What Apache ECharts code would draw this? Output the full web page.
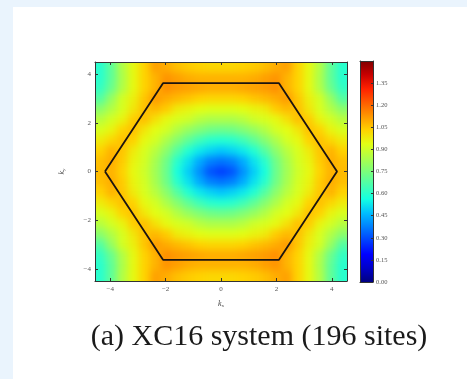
<!DOCTYPE html>
<html>
<head>
<meta charset="utf-8">
<script src="https://cdn.jsdelivr.net/npm/echarts@6/dist/echarts.min.js"></script>
<style>
  html, body { margin: 0; padding: 0; width: 467px; height: 379px; overflow: hidden; background: #eaf4fd; }
  #panel { position: absolute; left: 13px; top: 7px; width: 454px; height: 372px; background: #ffffff; }
  #fieldClip { position: absolute; left: 95px; top: 62px; width: 252px; height: 219px; overflow: hidden; }
  #field { position: absolute; left: -12px; top: -12px; width: 276px; height: 243px; filter: blur(3.5px); }
  #chart { position: absolute; left: 0; top: 0; width: 467px; height: 379px; }
</style>
</head>
<body>
<div id="panel"></div>
<div id="fieldClip"><div id="field"></div></div>
<div id="chart"></div>
<script>
// Sample grid (cell centres) in reciprocal space
const kxCenters = [-4.352, -3.957, -3.561, -3.165, -2.770, -2.374, -1.978, -1.583, -1.187, -0.791, -0.396, 0,
                   0.396, 0.791, 1.187, 1.583, 1.978, 2.374, 2.770, 3.165, 3.561, 3.957, 4.352];
const kyCenters = [4.286, 3.857, 3.429, 3.000, 2.571, 2.143, 1.714, 1.286, 0.857, 0.429, 0,
                   -0.429, -0.857, -1.286, -1.714, -2.143, -2.571, -3.000, -3.429, -3.857, -4.286];

// Field values, one row per ky (top to bottom), one column per kx (left to right)
const fieldRows = [
  [0.60,0.70,0.85,0.95,1.03,1.11,1.09,1.06,1.04,1.03,1.02,1.02,1.02,1.03,1.04,1.06,1.09,1.11,1.03,0.95,0.85,0.70,0.60],
  [0.60,0.70,0.84,0.95,1.03,1.08,1.13,1.11,1.09,1.08,1.08,1.08,1.08,1.08,1.09,1.11,1.13,1.08,1.03,0.95,0.84,0.70,0.60],
  [0.62,0.72,0.85,0.95,1.03,1.08,1.14,1.12,1.11,1.10,1.09,1.09,1.09,1.10,1.11,1.12,1.14,1.08,1.03,0.95,0.85,0.72,0.62],
  [0.68,0.80,0.91,0.97,1.05,1.12,1.09,1.07,1.05,1.03,1.02,1.02,1.02,1.03,1.05,1.07,1.09,1.12,1.05,0.97,0.91,0.80,0.68],
  [0.78,0.85,0.92,0.99,1.06,1.07,1.04,0.98,0.96,0.94,0.93,0.93,0.93,0.94,0.96,0.98,1.04,1.07,1.06,0.99,0.92,0.85,0.78],
  [0.86,0.91,0.96,1.04,1.06,1.00,0.95,0.92,0.90,0.86,0.84,0.84,0.84,0.86,0.90,0.92,0.95,1.00,1.06,1.04,0.96,0.91,0.86],
  [0.92,0.96,1.03,1.06,0.99,0.94,0.91,0.85,0.80,0.76,0.73,0.72,0.73,0.76,0.80,0.85,0.91,0.94,0.99,1.06,1.03,0.96,0.92],
  [0.98,1.02,1.06,1.03,0.95,0.91,0.84,0.77,0.70,0.64,0.60,0.59,0.60,0.64,0.70,0.77,0.84,0.91,0.95,1.03,1.06,1.02,0.98],
  [1.03,1.08,1.05,0.98,0.92,0.86,0.78,0.68,0.59,0.53,0.50,0.48,0.50,0.53,0.59,0.68,0.78,0.86,0.92,0.98,1.05,1.08,1.03],
  [1.06,1.09,1.04,0.96,0.91,0.83,0.73,0.60,0.52,0.44,0.38,0.36,0.38,0.44,0.52,0.60,0.73,0.83,0.91,0.96,1.04,1.09,1.06],
  [1.07,1.08,1.03,0.95,0.90,0.82,0.72,0.57,0.49,0.40,0.31,0.28,0.31,0.40,0.49,0.57,0.72,0.82,0.90,0.95,1.03,1.08,1.07],
  [1.06,1.09,1.04,0.96,0.91,0.83,0.73,0.60,0.52,0.44,0.38,0.36,0.38,0.44,0.52,0.60,0.73,0.83,0.91,0.96,1.04,1.09,1.06],
  [1.03,1.08,1.05,0.98,0.92,0.86,0.78,0.68,0.59,0.53,0.50,0.48,0.50,0.53,0.59,0.68,0.78,0.86,0.92,0.98,1.05,1.08,1.03],
  [0.98,1.02,1.06,1.03,0.95,0.91,0.84,0.77,0.70,0.64,0.60,0.59,0.60,0.64,0.70,0.77,0.84,0.91,0.95,1.03,1.06,1.02,0.98],
  [0.92,0.96,1.03,1.06,0.99,0.94,0.91,0.85,0.80,0.76,0.73,0.72,0.73,0.76,0.80,0.85,0.91,0.94,0.99,1.06,1.03,0.96,0.92],
  [0.86,0.91,0.96,1.04,1.06,1.00,0.95,0.92,0.90,0.86,0.84,0.84,0.84,0.86,0.90,0.92,0.95,1.00,1.06,1.04,0.96,0.91,0.86],
  [0.78,0.85,0.92,0.99,1.06,1.07,1.04,0.98,0.96,0.94,0.93,0.93,0.93,0.94,0.96,0.98,1.04,1.07,1.06,0.99,0.92,0.85,0.78],
  [0.68,0.80,0.91,0.97,1.05,1.12,1.09,1.07,1.05,1.03,1.02,1.02,1.02,1.03,1.05,1.07,1.09,1.12,1.05,0.97,0.91,0.80,0.68],
  [0.62,0.72,0.85,0.95,1.03,1.08,1.14,1.12,1.11,1.10,1.09,1.09,1.09,1.10,1.11,1.12,1.14,1.08,1.03,0.95,0.85,0.72,0.62],
  [0.60,0.70,0.84,0.95,1.03,1.08,1.13,1.11,1.09,1.08,1.08,1.08,1.08,1.08,1.09,1.11,1.13,1.08,1.03,0.95,0.84,0.70,0.60],
  [0.60,0.70,0.85,0.95,1.03,1.11,1.09,1.06,1.04,1.03,1.02,1.02,1.02,1.03,1.04,1.06,1.09,1.11,1.03,0.95,0.85,0.70,0.60]
];

// First Brillouin zone outline (closed hexagon)
const hexKx = [-4.189, -2.094, 2.094, 4.189, 2.094, -2.094, -4.189];
const hexKy = [0, 3.628, 3.628, 0, -3.628, -3.628, 0];

// Axis ticks
const xTicks = [-4, -2, 0, 2, 4];
const yTicks = [-4, -2, 0, 2, 4];
const cbTicks = [0, 0.15, 0.30, 0.45, 0.60, 0.75, 0.90, 1.05, 1.20, 1.35];
const cbMin = 0, cbMax = 1.5;
const captionText = '(a) XC16 system (196 sites)';

// jet colour map, evenly spaced samples
const jetColors = ['#000080','#0000c8','#0000ff','#0040ff','#0080ff','#00bfff','#14ffe2','#48ffaf',
                   '#7bff7b','#afff48','#e2ff14','#ffd200','#ff9700','#ff5c00','#ff2100','#c80000','#800000'];

const X_RANGE = [-4.55, 4.55];
const Y_RANGE = [-4.5, 4.5];
const SERIF = "'Liberation Serif', 'DejaVu Serif', serif";

function tickText(v) {
  const r = Math.round(v);
  if (Math.abs(v - r) > 1e-6 || r % 2 !== 0) return '';
  return String(r).replace('-', '\u2212');
}

// ---------- colour field layer ----------
const PAD = 12;
const stepX = kxCenters[1] - kxCenters[0];
const stepY = kyCenters[0] - kyCenters[1];
const nx = kxCenters.length, ny = kyCenters.length;
const cells = [];
for (let j = 0; j < ny; j++) {
  for (let i = 0; i < nx; i++) {
    cells.push([kxCenters[i], kyCenters[j], fieldRows[j][i], i, j]);
  }
}

const field = echarts.init(document.getElementById('field'));
field.setOption({
  animation: false,
  grid: { left: PAD, top: PAD, width: 252, height: 219 },
  xAxis: { type: 'value', min: X_RANGE[0], max: X_RANGE[1], show: false },
  yAxis: { type: 'value', min: Y_RANGE[0], max: Y_RANGE[1], show: false },
  visualMap: { type: 'continuous', show: false, min: cbMin, max: cbMax, dimension: 2, inRange: { color: jetColors } },
  series: [{
    type: 'custom',
    data: cells,
    renderItem: function (params, api) {
      const x = api.value(0), y = api.value(1), i = api.value(3), j = api.value(4);
      const p0 = api.coord([x - stepX / 2, y + stepY / 2]);
      const p1 = api.coord([x + stepX / 2, y - stepY / 2]);
      let x0 = p0[0], y0 = p0[1], x1 = p1[0], y1 = p1[1];
      if (i === 0) x0 -= PAD;
      if (i === nx - 1) x1 += PAD;
      if (j === 0) y0 -= PAD;
      if (j === ny - 1) y1 += PAD;
      return {
        type: 'rect',
        shape: { x: x0, y: y0, width: x1 - x0 + 0.6, height: y1 - y0 + 0.6 },
        style: { fill: api.visual('color') }
      };
    }
  }]
});

// ---------- axes, outline, colour bar, caption ----------
const axisLineStyle = { color: '#333', width: 1 };
const tickLabel = { fontSize: 7, color: '#555', fontFamily: SERIF };
const nameRich = {
  k: { fontSize: 8, fontStyle: 'italic', fontFamily: SERIF, color: '#444' },
  s: { fontSize: 5, fontFamily: SERIF, color: '#444', padding: [4, 0, 0, 0] }
};

const chart = echarts.init(document.getElementById('chart'));
chart.setOption({
  animation: false,
  grid: [
    { left: 95, top: 62, width: 252, height: 219 },
    { left: 360, top: 61, width: 13, height: 221 }
  ],
  xAxis: [
    {
      type: 'value', gridIndex: 0, min: X_RANGE[0], max: X_RANGE[1], position: 'bottom',
      axisLine: { show: true, onZero: false, lineStyle: axisLineStyle },
      axisTick: { show: true, inside: true, length: 3, lineStyle: axisLineStyle, customValues: xTicks },
      axisLabel: Object.assign({ margin: 5, formatter: tickText, customValues: xTicks }, tickLabel),
      splitLine: { show: false },
      name: '{k|k}{s|x}', nameLocation: 'middle', nameGap: 18,
      nameTextStyle: { rich: nameRich }
    },
    {
      type: 'value', gridIndex: 0, min: X_RANGE[0], max: X_RANGE[1], position: 'top',
      axisLine: { show: true, onZero: false, lineStyle: axisLineStyle },
      axisTick: { show: true, inside: true, length: 3, lineStyle: axisLineStyle, customValues: xTicks },
      axisLabel: { show: false }, splitLine: { show: false }
    },
    {
      type: 'category', gridIndex: 1, data: ['bar'], position: 'bottom', z: 5,
      axisLine: { show: true, onZero: false, lineStyle: axisLineStyle }, axisTick: { show: false }, axisLabel: { show: false }
    },
    {
      type: 'category', gridIndex: 1, data: ['bar'], position: 'top', z: 5,
      axisLine: { show: true, onZero: false, lineStyle: axisLineStyle }, axisTick: { show: false }, axisLabel: { show: false }
    }
  ],
  yAxis: [
    {
      type: 'value', gridIndex: 0, min: Y_RANGE[0], max: Y_RANGE[1], position: 'left',
      axisLine: { show: true, onZero: false, lineStyle: axisLineStyle },
      axisTick: { show: true, inside: true, length: 3, lineStyle: axisLineStyle, customValues: yTicks },
      axisLabel: Object.assign({ margin: 4, formatter: tickText, customValues: yTicks }, tickLabel),
      splitLine: { show: false },
      name: '{k|k}{s|y}', nameLocation: 'middle', nameGap: 29, nameRotate: 90,
      nameTextStyle: { rich: nameRich }
    },
    {
      type: 'value', gridIndex: 0, min: Y_RANGE[0], max: Y_RANGE[1], position: 'right',
      axisLine: { show: true, onZero: false, lineStyle: axisLineStyle },
      axisTick: { show: true, inside: true, length: 3, lineStyle: axisLineStyle, customValues: yTicks },
      axisLabel: { show: false }, splitLine: { show: false }
    },
    {
      type: 'value', gridIndex: 1, min: cbMin, max: cbMax, interval: 0.15, position: 'right', z: 5,
      axisLine: { show: true, onZero: false, lineStyle: axisLineStyle },
      axisTick: { show: true, inside: true, length: 2, lineStyle: axisLineStyle, customValues: cbTicks },
      axisLabel: Object.assign({}, tickLabel, {
        fontSize: 6.5, margin: 3, customValues: cbTicks,
        formatter: function (v) { return v > 1.4 ? '' : v.toFixed(2); }
      }),
      splitLine: { show: false }
    },
    {
      type: 'value', gridIndex: 1, min: cbMin, max: cbMax, position: 'left', z: 5,
      axisLine: { show: true, onZero: false, lineStyle: axisLineStyle },
      axisTick: { show: false }, axisLabel: { show: false }, splitLine: { show: false }
    }
  ],
  series: [
    {
      type: 'line', xAxisIndex: 0, yAxisIndex: 0, z: 4,
      data: hexKx.map(function (x, k) { return [x, hexKy[k]]; }),
      symbol: 'none', clip: false, silent: true,
      lineStyle: { color: '#1c1410', width: 1.8 }
    },
    {
      type: 'bar', xAxisIndex: 2, yAxisIndex: 2, data: [cbMax], barWidth: '100%', silent: true,
      itemStyle: {
        color: new echarts.graphic.LinearGradient(0, 1, 0, 0,
          jetColors.map(function (c, k) { return { offset: k / (jetColors.length - 1), color: c }; }))
      }
    }
  ],
  graphic: [{
    type: 'text', x: 259, y: 337,
    style: { text: captionText, font: "30px 'Liberation Serif', 'DejaVu Serif', serif",
             fill: '#1a1a1a', align: 'center', verticalAlign: 'middle' }
  }]
});
</script>
</body>
</html>
